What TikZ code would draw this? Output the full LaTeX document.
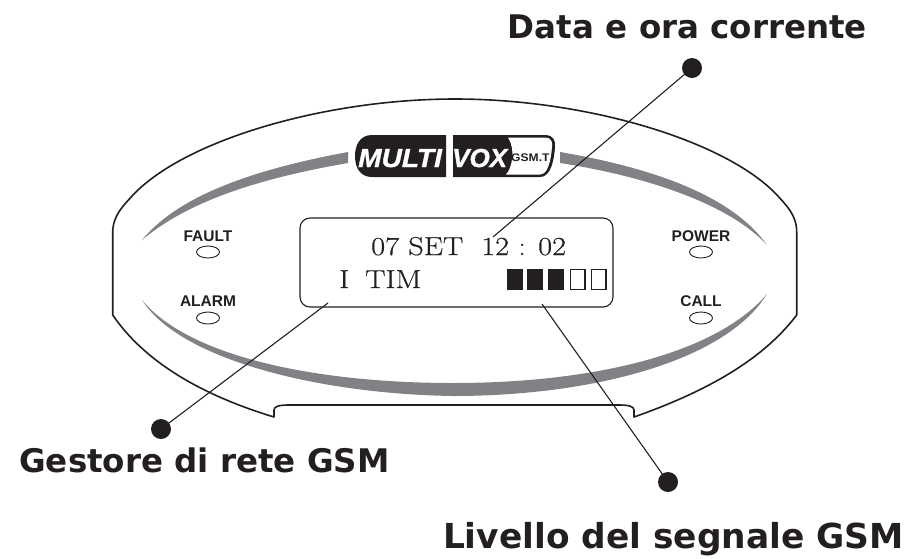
\documentclass[tikz,border=0pt]{standalone}
\usepackage{fontspec}
\setmainfont{Latin Modern Roman}
\newfontfamily\titlefont{DejaVu Sans}
\newfontfamily\ledfont{Liberation Sans}
\newfontfamily\lcdfont[FakeStretch=1.17,FakeBold=0.5]{Latin Modern Roman}
\newfontfamily\logofont[FakeStretch=1.08,FakeBold=1.2,BoldFont={},ItalicFont={}]{Liberation Sans Bold Italic}
\newfontfamily\logovox[FakeBold=1.2,BoldFont={},ItalicFont={}]{Liberation Sans Bold Italic}
\newfontfamily\logosmall[FakeStretch=1.1]{Liberation Sans Bold}
\usetikzlibrary{shapes.geometric}
\definecolor{ink}{HTML}{231F20}
\definecolor{swoosh}{HTML}{808285}
\tikzset{
  x=1pt,y=-1pt,
  shell/.style={draw=ink,line width=1.6pt,line join=round},
  band/.style={fill=swoosh,draw=none},
  lcd/.style={draw=ink,line width=1.1pt,rounded corners=10pt},
  callout/.style={draw=ink,line width=1.1pt},
  dotmark/.style={circle,fill=ink,draw=none,minimum size=20pt,inner sep=0pt},
  ledlight/.style={ellipse,draw=ink,line width=0.9pt,minimum width=23pt,minimum height=12pt,inner sep=0pt},
  ledlabel/.style={font=\ledfont\bfseries\fontsize{15.5}{16}\selectfont,text=ink,inner sep=0pt,anchor=base},
  headline/.style={font=\titlefont\bfseries\fontsize{32.5}{34}\selectfont,text=ink,inner sep=0pt,anchor=base},
  headlinewide/.style={font=\titlefont\bfseries\fontsize{34.4}{36}\selectfont,text=ink,inner sep=0pt,anchor=base},
  lcdtext/.style={font=\lcdfont\fontsize{26}{28}\selectfont,text=ink,inner sep=0pt,anchor=base west},
  logotext/.style={font=\logofont\fontsize{26}{28}\selectfont,text=white,inner sep=0pt,anchor=base west},
  baron/.style={fill=ink,draw=ink,line width=0.8pt},
  baroff/.style={draw=ink,line width=1.3pt},
}
\begin{document}
\begin{tikzpicture}
\useasboundingbox (0,0) rectangle (915,558);
% shell
\draw[shell] (112.7,315) -- (112.7,232)
  .. controls (113,215) and (124,205) .. (133,195)
  .. controls (185,140) and (325,99) .. (455,99)
  .. controls (585,99) and (725,140) .. (777,195)
  .. controls (786,205) and (796.7,215) .. (796.7,232)
  -- (796.7,315)
  .. controls (770,350) and (725,385) .. (634,417)
  -- (634,410) .. controls (634,407) and (630,405) .. (620,405)
  -- (288,405) .. controls (278,405) and (274,407) .. (274,410)
  -- (274,417)
  .. controls (185,390) and (138,352) .. (112.7,315) -- cycle;
% bands
\fill[band] (142,240) .. controls (175,200) and (240,172) .. (348,152)
  -- (348,163) .. controls (250,180) and (185,204) .. (142,240) -- cycle;
\fill[band] (767,245) .. controls (735,200) and (665,170) .. (560,152)
  -- (560,163) .. controls (650,177) and (730,205) .. (767,245) -- cycle;
\fill[band] (142,300) .. controls (190,358) and (320,383) .. (453,383)
  .. controls (590,383) and (715,355) .. (767,294)
  .. controls (725,362) and (590,396) .. (453,396)
  .. controls (320,394) and (180,360) .. (142,300) -- cycle;
% logo
\fill[ink] (446,135) -- (372,135) .. controls (360,135) and (355,145) .. (355,156)
  .. controls (355,170) and (362,177) .. (372,177) -- (446,177) -- cycle;
\fill[ink] (453,135) -- (546,135) .. controls (552,135) and (556,140) .. (555,147)
  .. controls (554,160) and (551,177) .. (540,177) -- (453,177) -- cycle;
\fill[white] (508,137.5) -- (545,137.5) .. controls (551,137.5) and (553,142) .. (552,147)
  .. controls (551,160) and (548,174.5) .. (540,174.5) -- (506,174.5)
  .. controls (512,168) and (516,150) .. (508,137.5) -- cycle;
\node[logotext] (logoa) at (358,167) {MULTI};
\node[logotext,font=\logovox\fontsize{26}{28}\selectfont] (logob) at (452,167) {VOX};
\node[font=\logosmall\fontsize{11}{12}\selectfont,text=ink,inner sep=0pt,anchor=base west] (logoc) at (511,161.5) {GSM.T};
% LCD
\node[draw=none,minimum width=313pt,minimum height=89pt,inner sep=0pt] (screen) at (456.5,262.5) {};
\draw[lcd] (300,218) rectangle (613,307);
\node[lcdtext] (dt) at (371,255) {07 SET};
\node[lcdtext] (tm) at (481,255) {12 : 02};
\node[lcdtext] (op) at (339,288) {I};
\node[lcdtext] (tim) at (365,288) {TIM};
\foreach \xa in {507,527.5,548.5}
  \draw[baron] (\xa,269.5) rectangle ++(15,20);
\foreach \xa in {570.5,591.5}
  \draw[baroff] (\xa,269.5) rectangle ++(14.5,20);
% LEDs
\node[ledlight] (lfault) at (208,252) {};
\node[ledlight] (lalarm) at (208,318) {};
\node[ledlight] (lpower) at (701,252) {};
\node[ledlight] (lcall) at (701,318) {};
\node[ledlabel] (tfault) at (208,241) {FAULT};
\node[ledlabel] (talarm) at (208,306) {ALARM};
\node[ledlabel] (tpower) at (701,241) {POWER};
\node[ledlabel] (tcall) at (701,306) {CALL};
% callouts
\node[dotmark] (d1) at (692,68) {};
\node[dotmark] (d2) at (161,429) {};
\node[dotmark] (d3) at (668,482) {};
\coordinate (e1) at (493,237);
\coordinate (e2) at (328,303);
\coordinate (e3) at (542,304);
\draw[callout] (d1.center) -- (e1);
\draw[callout] (d2.center) -- (e2);
\draw[callout] (d3.center) -- (e3);
% headings
\node[headline] (h1) at (687.5,38) {Data e ora corrente};
\node[headline] (h2) at (204.5,472.5) {Gestore di rete GSM};
\node[headlinewide] (h3) at (673.5,548) {Livello del segnale GSM};
\end{tikzpicture}
\end{document}
